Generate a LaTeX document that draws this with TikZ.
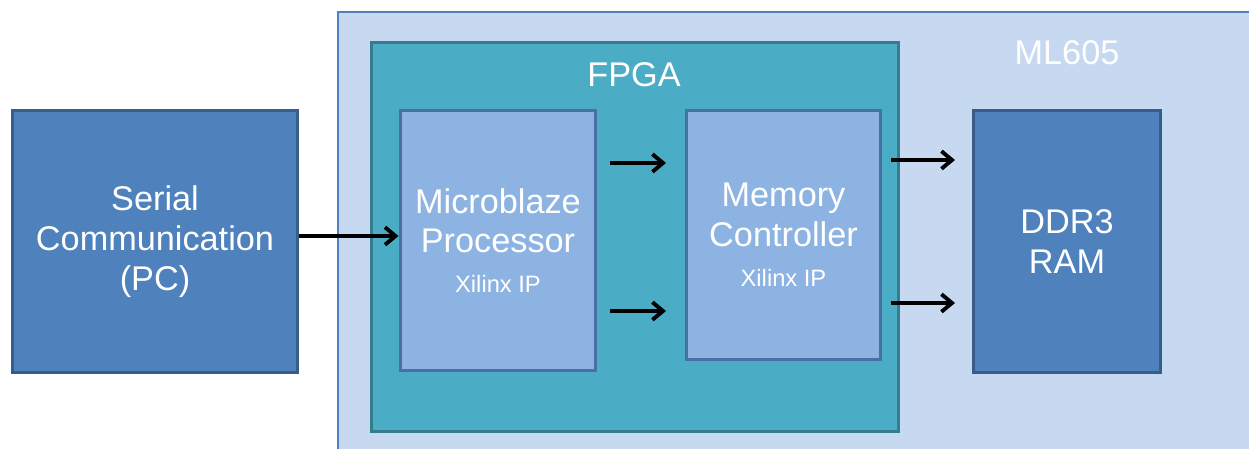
\documentclass[tikz,border=0pt]{standalone}
\usepackage{fontspec}
\setmainfont{Liberation Sans}
\usetikzlibrary{arrows.meta}
\definecolor{boardfill}{HTML}{C6D9F1}
\definecolor{boarddraw}{HTML}{4F81BD}
\definecolor{fpgafill}{HTML}{4BACC6}
\definecolor{fpgadraw}{HTML}{357D8E}
\definecolor{darkfill}{HTML}{4F81BD}
\definecolor{darkdraw}{HTML}{385D8A}
\definecolor{lightfill}{HTML}{8DB3E2}
\definecolor{lightdraw}{HTML}{4A6FA5}
\newcommand{\bigtxt}{\fontsize{19.5}{22.7}\selectfont}
\newcommand{\smalltxt}{\fontsize{13.5}{22.7}\selectfont}
\tikzset{
  darkbox/.style={draw=darkdraw, fill=darkfill, line width=1.7pt, text=white, align=center, font=\bigtxt, inner sep=0pt},
  lightbox/.style={draw=lightdraw, fill=lightfill, line width=1.7pt, text=white, align=center, font=\bigtxt, inner sep=0pt},
  fpgabox/.style={draw=fpgadraw, fill=fpgafill, line width=1.7pt, inner sep=0pt},
  boardbox/.style={draw=boarddraw, fill=boardfill, line width=1.1pt, inner sep=0pt},
  lbl/.style={text=white, font=\bigtxt, inner sep=0pt},
  arr/.style={line width=2.2pt, -{Straight Barb[length=6pt,width=10pt,line width=2.2pt]}}
}
\begin{document}
\begin{tikzpicture}[x=0.02cm,y=-0.02cm]
\useasboundingbox (0,0) rectangle (1249,449);
\clip (0,0) rectangle (1249,449);
\fill[white] (0,0) rectangle (1249,449);
% board
\node[boardbox, minimum width=18.6cm, minimum height=9.4cm, anchor=north west] (board) at (337,11) {};
\node[lbl] (ml605) at (1067,53) {ML605};
% fpga
\node[fpgabox, minimum width=10.56cm, minimum height=7.8cm] (fpga) at (635,237) {};
\node[lbl] (fpgalbl) at (634,75) {FPGA};
% blocks
\node[darkbox, minimum width=5.72cm, minimum height=5.26cm] (serial) at (155,241.5) {Serial\\Communication\\(PC)};
\node[lightbox, minimum width=3.92cm, minimum height=5.22cm] (micro) at (498,240.5) {Microblaze\\Processor\\{\smalltxt Xilinx IP}};
\node[lightbox, minimum width=3.9cm, minimum height=5.0cm] (mem) at (783.5,235) {Memory\\Controller\\{\smalltxt Xilinx IP}};
\node[darkbox, minimum width=3.76cm, minimum height=5.26cm] (ddr) at (1067,241.5) {DDR3\\RAM};
% arrow end points
\coordinate (a1s) at (610,163); \coordinate (a1e) at (666,163);
\coordinate (a2s) at (610,311); \coordinate (a2e) at (666,311);
\coordinate (a3s) at (891,160); \coordinate (a3e) at (955,160);
\coordinate (a4s) at (891,303); \coordinate (a4e) at (955,303);
\draw[arr] (serial.east |- 0,236) -- (micro.west |- 0,236);
\draw[arr] (a1s) -- (a1e);
\draw[arr] (a2s) -- (a2e);
\draw[arr] (a3s) -- (a3e);
\draw[arr] (a4s) -- (a4e);
\end{tikzpicture}
\end{document}
